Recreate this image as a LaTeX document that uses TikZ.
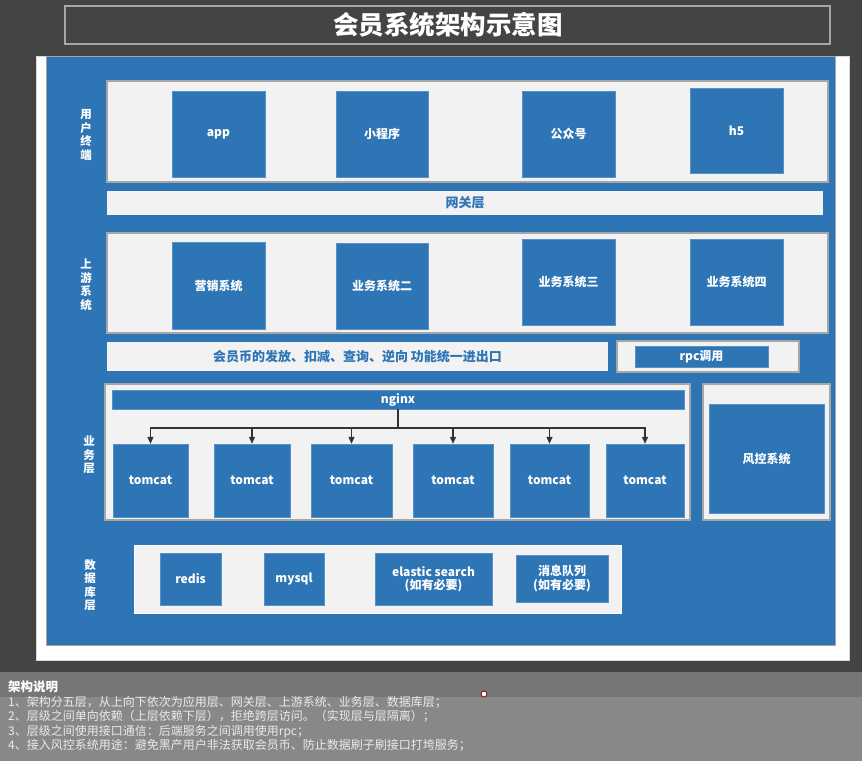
\documentclass[tikz,border=0pt]{standalone}
\usepackage{fontspec}
\setmainfont{Noto Sans CJK SC}
\usetikzlibrary{arrows.meta}
\definecolor{bgdark}{HTML}{444444}
\definecolor{noteband}{HTML}{767676}
\definecolor{notebody}{HTML}{888888}
\definecolor{panelblue}{HTML}{2E75B6}
\definecolor{lightbox}{HTML}{F2F2F2}
\definecolor{rimgray}{HTML}{A6A6A6}

\begin{document}
\begin{tikzpicture}[x=1pt, y=-1pt,
  tier/.style={draw=rimgray, line width=1.5pt, fill=lightbox, minimum width=#1},
  svc/.style={draw=panelblue!80!white, fill=panelblue, text=white, font=\bfseries\fontsize{12}{13.5}\selectfont, align=center, inner sep=0pt},
  bar/.style={fill=lightbox, text=panelblue, font=\bfseries\fontsize{13}{15}\selectfont, inner sep=0pt},
  layer/.style={text=white, font=\bfseries\fontsize{11.5}{13.5}\selectfont, align=center},
  arr/.style={-{Triangle[length=7pt,width=6pt]}, draw=black!80, line width=1.2pt}]
\useasboundingbox (0,0) rectangle (862,761);
% background, frame and notes band
\fill[bgdark] (0,0) rectangle (862,672);
\fill[noteband] (0,672) rectangle (862,697);
\fill[notebody] (0,697) rectangle (862,761);
\draw[rimgray, line width=1.2pt] (65,6) rectangle (830,44);
\node[text=white, font=\bfseries\fontsize{25.5}{29}\selectfont] (title) at (448,25) {会员系统架构示意图};
\draw[fill=white, draw=black!15] (36,56) rectangle (849,660);
\draw[fill=panelblue, draw=rimgray] (46,56) rectangle (835,645);

% 用户终端
\node[layer] (l1) at (86,135) {用\\户\\终\\端};
\node[tier=721pt, minimum height=101pt] (user) at (467.5,131.5) {};
\node[svc, minimum width=93pt, minimum height=86pt] (app) at (218.5,134) {app};
\node[svc, minimum width=92pt, minimum height=86pt] (mini) at (382,134) {小程序};
\node[svc, minimum width=93pt, minimum height=86pt] (mp) at (568.5,134) {公众号};
\node[svc, minimum width=93pt, minimum height=85pt] (h5) at (736.5,130.5) {h5};

% 网关层
\node[bar, minimum width=716pt, minimum height=24pt] (gw) at (465,203) {网关层};

% 上游系统
\node[layer] (l2) at (86,285) {上\\游\\系\\统};
\node[tier=721pt, minimum height=100pt] (up) at (467.5,283) {};
\node[svc, minimum width=93pt, minimum height=87pt] (mkt) at (218.5,285.5) {营销系统};
\node[svc, minimum width=92pt, minimum height=86pt] (biz2) at (382,286) {业务系统二};
\node[svc, minimum width=93pt, minimum height=86pt] (biz3) at (568.5,282) {业务系统三};
\node[svc, minimum width=93pt, minimum height=86pt] (biz4) at (736.5,282) {业务系统四};

% 统一出入口
\node[bar, minimum width=501pt, minimum height=29pt] (coin) at (357.5,356.5) {会员币的发放、扣减、查询、逆向 功能统一进出口};
\node[tier=182pt, minimum height=31pt] (rpcbox) at (708,356.5) {};
\node[svc, minimum width=133pt, minimum height=21pt] (rpc) at (701.5,356.5) {rpc调用};

% 业务层
\node[layer] (l3) at (89,455) {业\\务\\层};
\node[tier=585pt, minimum height=136pt] (biz) at (397.5,452) {};
\node[svc, minimum width=572pt, minimum height=19pt] (nginx) at (398,399.5) {nginx};
\node[svc, minimum width=75pt, minimum height=73pt] (t1) at (150.5,480.5) {tomcat};
\node[svc, minimum width=76pt, minimum height=73pt] (t2) at (252,480.5) {tomcat};
\node[svc, minimum width=81pt, minimum height=73pt] (t3) at (351.5,480.5) {tomcat};
\node[svc, minimum width=80pt, minimum height=73pt] (t4) at (453,480.5) {tomcat};
\node[svc, minimum width=79pt, minimum height=73pt] (t5) at (549.5,480.5) {tomcat};
\node[svc, minimum width=78pt, minimum height=73pt] (t6) at (645,480.5) {tomcat};
\coordinate (bus) at (398,428);
\draw[draw=black!80, line width=1.2pt] (nginx.south) -- (bus);
\draw[arr] (bus) -| (t1.north);
\draw[arr] (bus) -| (t2.north);
\draw[arr] (bus) -| (t3.north);
\draw[arr] (bus) -| (t4.north);
\draw[arr] (bus) -| (t5.north);
\draw[arr] (bus) -| (t6.north);

% 风控
\node[tier=127pt, minimum height=136pt] (riskbox) at (766.5,452) {};
\node[svc, minimum width=115pt, minimum height=109pt] (risk) at (766.5,458.5) {风控系统};

% 数据库层
\node[layer] (l4) at (90,585) {数\\据\\库\\层};
\node[fill=lightbox, draw=white, minimum width=487pt, minimum height=68pt] (db) at (377.5,579) {};
\node[svc, minimum width=61pt, minimum height=52pt] (redis) at (190.5,579) {redis};
\node[svc, minimum width=60pt, minimum height=52pt] (mysql) at (294,579) {mysql};
\node[svc, minimum width=117pt, minimum height=52pt] (es) at (433.5,579) {elastic search\\(如有必要)};
\node[svc, minimum width=92pt, minimum height=47pt] (mq) at (562,578.5) {消息队列\\(如有必要)};

% 架构说明
\node[anchor=west, text=white, font=\bfseries\fontsize{12.5}{14}\selectfont, inner sep=0pt] (notehead) at (8,687) {架构说明};
\node[anchor=north west, text=white!92!black, font=\fontsize{12}{14.5}\selectfont, align=left, inner sep=0pt] (notes) at (8,696) {1、架构分五层，从上向下依次为应用层、网关层、上游系统、业务层、数据库层；\\2、层级之间单向依赖（上层依赖下层），拒绝跨层访问。（实现层与层隔离）；\\3、层级之间使用接口通信：后端服务之间调用使用rpc；\\4、接入风控系统用途：避免黑产用户非法获取会员币、防止数据刷子刷接口打垮服务；};
\node[circle, draw=red!50!black, fill=white, inner sep=0pt, minimum size=6pt, line width=0.8pt] (dot) at (484,694) {};
\end{tikzpicture}
\end{document}
